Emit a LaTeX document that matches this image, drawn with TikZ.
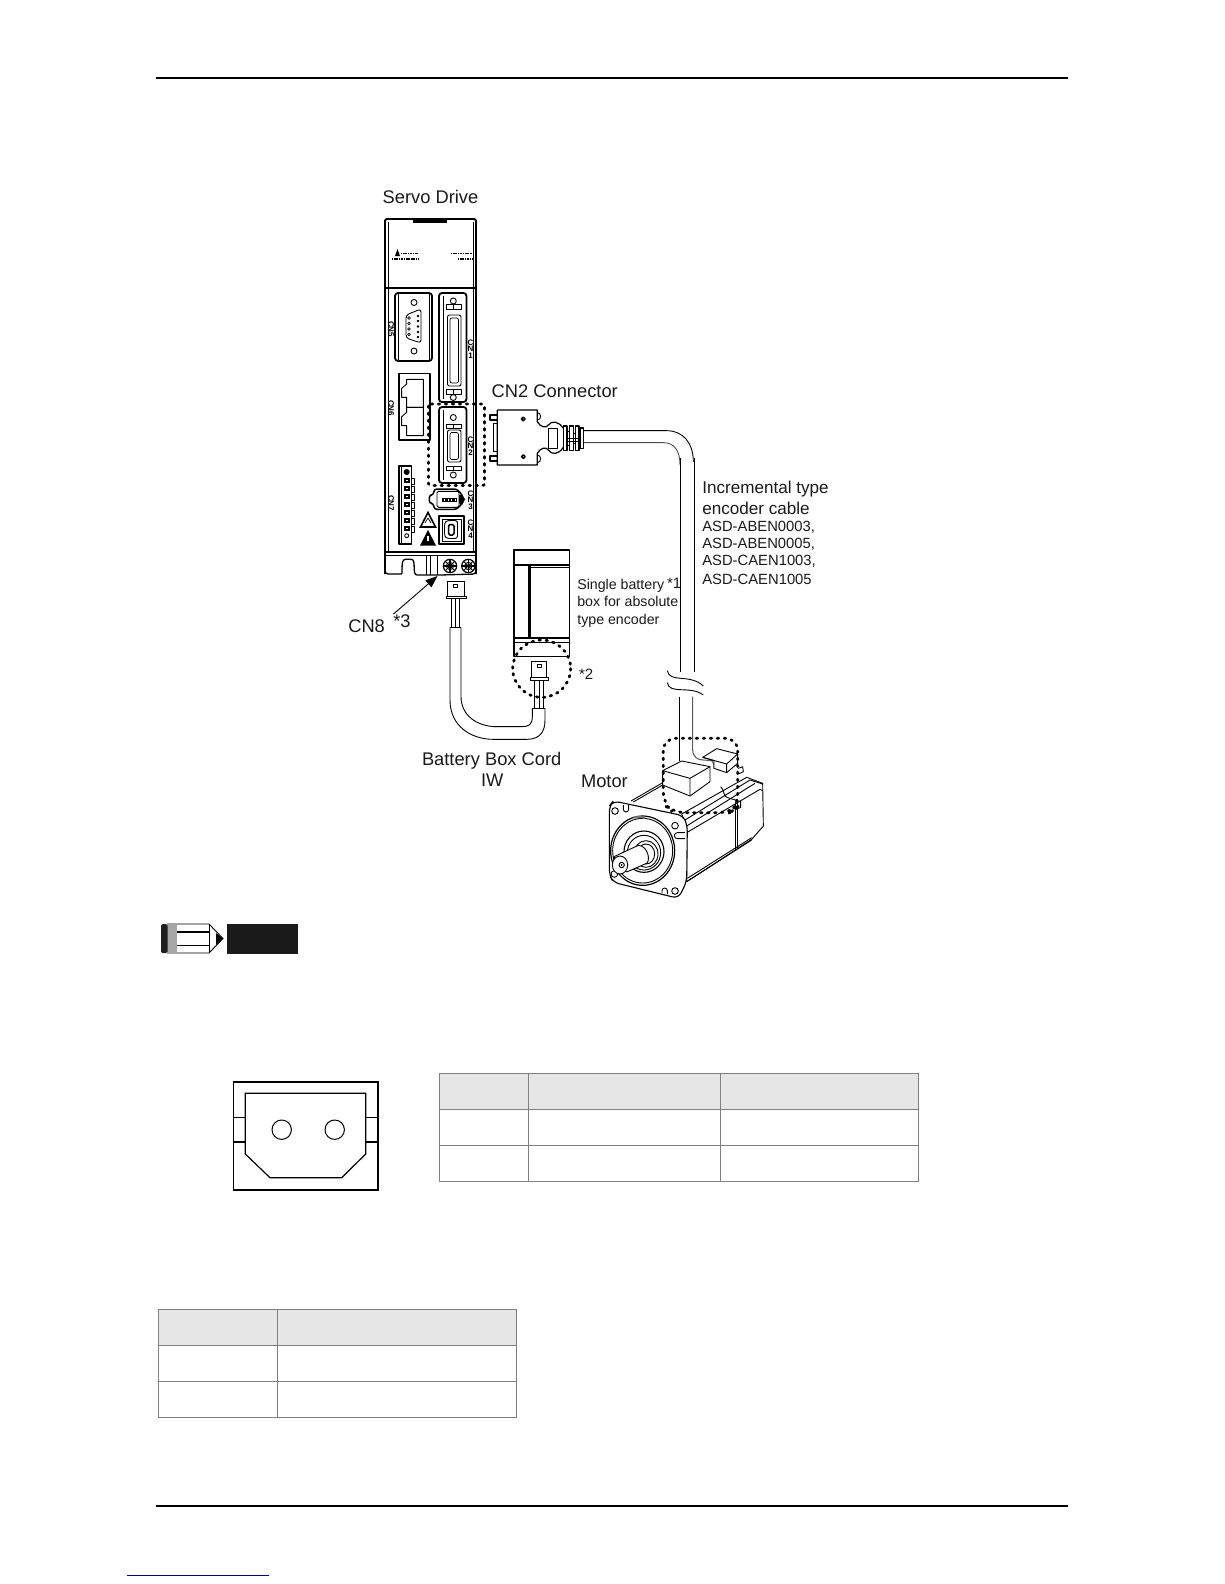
\documentclass[tikz,border=0pt]{standalone}
\usepackage{fontspec}
\setmainfont{Liberation Sans}
\usetikzlibrary{arrows.meta}
\definecolor{ink}{HTML}{1A1A1A}
\definecolor{tbl}{HTML}{808080}
\definecolor{tblfill}{HTML}{E6E6E6}
\tikzset{
  lab/.style={anchor=base west,inner sep=0pt,outer sep=0pt,text=ink,font=\fontsize{18.3}{20}\selectfont},
  widelab/.style={lab,font=\fontsize{17.1}{20}\selectfont},
  midlab/.style={lab,font=\fontsize{14.2}{16}\selectfont},
  smalllab/.style={lab,font=\fontsize{14.8}{16}\selectfont},
  sidelab/.style={inner sep=0pt,outer sep=0pt,text=black,font=\fontsize{8}{8}\selectfont\bfseries,rotate=-90},
  stacklab/.style={inner sep=0pt,outer sep=0pt,text=black,align=center,font=\fontsize{8}{6.6}\selectfont\bfseries},
  ln/.style={draw=black,line width=.9pt,line join=round},
  hv/.style={draw=black,line width=1.5pt,line join=round},
  thn/.style={draw=black,line width=.7pt,line join=round},
  dots/.style={draw=black,line width=2.8pt,line cap=round,dash pattern=on 1.5pt off 5.5pt},
  cell/.style={draw=tbl,line width=1pt},
  zA/.style={shift={(340,180)},x=.33333pt,y=-.33333pt},
  zB/.style={shift={(340,470)},x=.33333pt,y=-.33333pt},
  zC/.style={shift={(570,700)},x=.33333pt,y=-.33333pt},
  zD/.style={shift={(375,420)},x=.33333pt,y=-.33333pt},
  zF/.style={shift={(480,390)},x=.33333pt,y=-.33333pt},
  zG/.style={shift={(570,470)},x=.33333pt,y=-.33333pt},
}
\begin{document}
\begin{tikzpicture}[x=1pt,y=-1pt]
\useasboundingbox (0,0) rectangle (1224,1584);
\fill[white] (0,0) rectangle (1224,1584);

% page rules
\draw[black,line width=1.1pt] (156,78) -- (1068,78);
\draw[black,line width=1.1pt] (156,1506) -- (1068,1506);
\draw[blue!50!black,line width=1pt] (127,1575) -- (269,1575);

% ---------- servo drive ----------
\draw[hv,line width=1.8pt,rounded corners=1.5pt] (385,574) -- (385,219) -- (476,219) -- (476,574);
\draw[ln] (473,222) -- (473,552);
\draw[ln] (388,222) -- (388,552);
\fill[black] (413,219) rectangle (447,223);
\draw[ln,line width=1.1pt] (385,288) -- (476,288);
% logo and rating marks
\fill[black] (395,256) -- (397.5,249) -- (400,256) -- cycle;
\draw[black,line width=1.8pt,dash pattern=on 1.2pt off .5pt] (401,253.5) -- (418,253.5);
\draw[black,line width=1.8pt,dash pattern=on 1.2pt off .5pt] (392,259) -- (418,259);
\draw[black,line width=1.8pt,dash pattern=on 1.2pt off .5pt] (451,253.5) -- (472,253.5);
\draw[black,line width=1.8pt,dash pattern=on 1.2pt off .5pt] (458,259) -- (472,259);

% CN5
\draw[hv,line width=1.8pt,rounded corners=3pt] (395,293) rectangle (432,361);
\draw[thn] (398,293) -- (398,361) (429,293) -- (429,361);
\draw[ln,rounded corners=3pt] (406,315) -- (421,309) -- (421,343) -- (406,338) -- cycle;
\draw[ln] (414,302.5) circle[radius=3];
\draw[ln] (414,351) circle[radius=3];
\foreach \y in {318,323.5,329,334.5} \draw[thn] (409,\y) circle[radius=1.3];
\foreach \y in {316,321,326.5,332,337} \fill[black] (418,\y) circle[radius=1.4];

% CN1
\draw[hv,line width=1.8pt,rounded corners=3pt] (439,293) rectangle (466.5,402);
\draw[ln] (443,296) -- (443,399);
\draw[ln,rounded corners=2pt] (447.5,315) rectangle (461,386);
\draw[thn,rounded corners=2pt] (450,318) rectangle (458.5,383);
\draw[ln] (453.3,301) circle[radius=3];
\draw[ln] (446,304.5) rectangle (461,309);
\draw[ln] (453.3,304.5) -- (453.3,309);
\draw[ln] (446,389.5) rectangle (461,394);
\draw[ln] (453.3,389.5) -- (453.3,394);
\draw[ln] (453.3,397.5) circle[radius=3];

% CN2
\draw[hv,line width=1.8pt,rounded corners=3pt] (439,407) rectangle (466.5,483);
\draw[ln] (443,410) -- (443,480);
\draw[ln,rounded corners=2pt] (447.5,430) rectangle (461,462);
\draw[thn,rounded corners=2pt] (450,432.5) rectangle (458.5,459.5);
\draw[ln] (453.3,417.5) circle[radius=3];
\draw[ln] (446,424) rectangle (461,428);
\draw[ln] (453.3,424) -- (453.3,428);
\draw[ln] (446,466.5) rectangle (461,470.5);
\draw[ln] (453.3,466.5) -- (453.3,470.5);
\draw[ln] (453.3,475) circle[radius=3];

% CN6
\draw[hv] (399,373.5) rectangle (430,440);
\begin{scope}[zA]
  \draw[ln] (250,598) -- (200,598) -- (200,612) -- (185,625) -- (185,652) -- (200,652) -- (200,682) -- (250,682) -- cycle;
  \draw[ln] (250,682) -- (200,682) -- (200,697) -- (185,710) -- (185,737) -- (200,737) -- (200,767) -- (250,767) -- cycle;
\end{scope}

% CN7
\begin{scope}[zD]
  \draw[hv] (72,138) rectangle (110,372);
  \draw[thn] (80,138) -- (80,372);
  \fill[black] (95,156) circle[radius=9];
  \foreach \y in {182,206,230,254,278,302,326} {
    \fill[black] (86,\y-8) rectangle (105,\y+8);
    \fill[white] (94,\y-3) rectangle (100,\y+1);
    \draw[thn] (110,\y-8) -- (118,\y-8) -- (118,\y+10) -- (110,\y+10);
  }
  \draw[ln] (95,347) circle[radius=6];
\end{scope}

% warning triangles
\draw[hv,line width=1.6pt,line join=miter] (420.5,527) -- (428,512.5) -- (435.5,527) -- cycle;
\draw[thn] (425,523) -- (428,518) -- (431,523);
\fill[black] (420,545.5) -- (428,530) -- (436,545.5) -- cycle;
\fill[white] (427.3,536) rectangle (428.7,541);

% CN3
\begin{scope}[zD]
  \draw[hv,rounded corners=2.5pt] (178,207) -- (245,207) -- (262,225) -- (262,250) -- (245,268) -- (178,268) -- (175,250) -- (163,250) -- (163,225) -- (175,225) -- cycle;
  \draw[ln,rounded corners=1.5pt] (186,214) rectangle (252,262);
  \fill[black] (200,234) rectangle (245,246);
  \foreach \x in {207,218,229,239} \fill[white] (\x,237) rectangle (\x+3,243);
  \fill[black] (252,226) -- (262,224) -- (270,238) -- (262,254) -- (252,250) -- cycle;
\end{scope}

% CN4
\draw[ln,line width=1.2pt] (439,516) rectangle (464,544);
\draw[ln] (442,519) rectangle (461,541);
\draw[ln,rounded corners=2.5pt] (444.5,523) -- (447,520.5) -- (457.5,520.5) -- (457.5,538.5) -- (447,538.5) -- (444.5,536) -- cycle;
\draw[hv,rounded corners=1.5pt] (448.5,524.5) rectangle (454,535);

% base of the drive
\draw[hv] (385,552) -- (476,552);
\draw[thn] (385,555) -- (476,555);
\begin{scope}[zB]
  \draw[hv,line width=1.3pt,rounded corners=3pt] (135,250) -- (135,312) -- (175,312) .. controls (190,312) and (180,268) .. (205,268) .. controls (230,268) and (215,315) .. (240,315) -- (300,315) -- (408,312) -- (408,250);
  \draw[ln] (258,255) -- (258,315) (272,255) -- (272,315);
  \draw[hv] (292,255) -- (292,315);
  \foreach \x in {330,385} {
    \draw[hv,line width=1.2pt] (\x,288) circle[radius=20];
    \draw[hv,line width=1.2pt] (\x-20,288) -- (\x+20,288) (\x,268) -- (\x,308);
    \draw[ln] (\x-14,274) -- (\x+14,302) (\x-14,302) -- (\x+14,274);
    \draw[ln] (\x,288) circle[radius=11];
  }
\end{scope}

% rotated panel labels
\node[sidelab] (cnfive) at (391,329) {CN5};
\node[sidelab] (cnsix) at (391,408) {CN6};
\node[sidelab] (cnseven) at (391,503) {CN7};
\node[stacklab] (cnone) at (470.5,349) {C\\N\\1};
\node[stacklab] (cntwo) at (470.5,446) {C\\N\\2};
\node[stacklab] (cnthree) at (470.5,500) {C\\N\\3};
\node[stacklab] (cnfour) at (470.5,529) {C\\N\\4};

% dotted CN2 outline
\draw[dots,rounded corners=2pt] (428.5,404) rectangle (484.5,485.5);

% CN8 arrow
\node[lab] (cneight) at (348.3,632) {CN8};
\node[lab] (starthree) at (393.3,627) {*3};
\coordinate (cneightarrowtail) at (393.5,614);
\coordinate (cneighttip) at (437.5,576);
\draw[black,line width=.9pt,-{Triangle[length=12pt,width=9pt]}] (cneightarrowtail) -- (cneighttip);

% plugs, cord, battery box
\begin{scope}[zB]
  \draw[ln] (322,333) rectangle (372,380);
  \draw[ln] (318,380) rectangle (378,386);
  \draw[ln] (340,343) rectangle (353,351);
  \draw[ln] (335,386) -- (335,470) (346,386) -- (346,470) (358,386) -- (358,470);
  \draw[ln] (330,472) -- (363,472);
  \draw[ln] (330,472) -- (330,690) .. controls (330,770) and (395,808) .. (460,808) -- (560,808) .. controls (600,808) and (615,785) .. (615,750) -- (615,715);
  \draw[ln] (363,472) -- (363,680) .. controls (363,735) and (410,770) .. (470,770) -- (545,770) .. controls (565,770) and (577,765) .. (577,740) -- (577,715);
  \draw[ln] (577,715) -- (615,715);
  \draw[ln] (574,575) rectangle (620,623);
  \draw[ln] (570,623) rectangle (624,630);
  \draw[ln] (592,583) rectangle (604,592);
  \draw[ln] (583,630) -- (583,715) (597,630) -- (597,715) (610,630) -- (610,715);
  \draw[hv,line width=1.6pt] (522,240) rectangle (688,560);
  \draw[hv,line width=2.6pt] (522,240) -- (522,505);
  \draw[hv,line width=2pt] (522,240) -- (688,240);
  \draw[hv,line width=2pt] (522,285) -- (688,285);
  \draw[thn] (567,293) -- (688,293);
  \draw[hv,line width=3pt] (567,285) -- (567,505);
  \draw[hv,line width=2pt] (522,505) -- (688,505);
  \draw[ln] (522,517) -- (688,517);
  \draw[dots] (605,596) ellipse[x radius=87,y radius=86];
\end{scope}
\node[lab,font=\fontsize{15}{16}\selectfont] (startwo) at (579,679) {*2};

% ---------- CN2 plug and encoder cable ----------
\begin{scope}[zF]
  \draw[hv,line width=1.2pt] (52,60) -- (172,60) -- (172,95) .. controls (180,112) and (200,115) .. (205,105) .. controls (215,92) and (235,92) .. (250,115);
  \draw[hv,line width=1.2pt] (52,60) -- (52,225) -- (172,225) -- (172,190) .. controls (180,173) and (200,170) .. (205,180) .. controls (215,195) and (235,195) .. (250,172);
  \draw[ln] (40,100) rectangle (52,185);
  \draw[hv] (30,75) rectangle (52,90);
  \draw[hv] (30,198) rectangle (52,213);
  \draw[ln] (172,68) .. controls (185,68) and (185,90) .. (172,90);
  \draw[ln] (172,195) .. controls (185,195) and (185,218) .. (172,218);
  \draw[hv] (130,87) circle[radius=5.5];
  \draw[hv] (130,200) circle[radius=5.5];
  \draw[ln] (205,115) rectangle (232,175);
  \foreach \x in {250,269,286} \draw[ln,line width=1.1pt] (\x,108) rectangle (\x+11,182);
  \draw[ln,line width=1.1pt] (300,114) rectangle (311,176);
  \draw[ln] (261,125) -- (269,125) (261,165) -- (269,165) (280,130) -- (286,130) (280,160) -- (286,160);
  \draw[ln] (261,146) -- (300,146) (261,154) -- (300,154);
  \draw[ln] (312,122) -- (560,122) .. controls (610,122) and (640,160) .. (640,215);
  \draw[draw=black!70,line width=.9pt] (312,158) -- (550,158) .. controls (585,158) and (600,185) .. (600,225);
\end{scope}
\begin{scope}[zG]
  \draw[ln] (330,-35) -- (330,605);
  \draw[ln] (372,-35) -- (372,605);
  \draw[ln] (292,602) .. controls (298,640) and (360,610) .. (400,648);
  \draw[ln] (292,638) .. controls (298,675) and (360,645) .. (400,675);
\end{scope}

% ---------- motor ----------
\begin{scope}[zC]
  \draw[ln] (328,-10) -- (328,183);
  \draw[draw=black!65,line width=1pt] (368,-10) -- (368,150) .. controls (368,172) and (385,180) .. (400,180) -- (425,182) .. controls (432,185) and (432,195) .. (432,205);
  % body
  \draw[ln,fill=white] (335,342) -- (530,232) -- (578,250) -- (580,378) -- (545,418) -- (350,545) -- (350,378) -- cycle;
  \draw[ln] (345,360) -- (540,240) -- (578,252);
  \draw[ln] (350,378) -- (555,250);
  \draw[ln] (350,398) -- (570,268) -- (578,272);
  \draw[ln] (183,303) -- (278,248);
  \draw[ln] (190,306) -- (278,255);
  \draw[ln] (495,305) -- (495,450) (503,300) -- (503,445);
  \draw[ln] (452,260) .. controls (465,270) and (455,290) .. (480,295) -- (512,305) -- (512,322) -- (495,330);
  \draw[ln] (505,205) -- (518,200) -- (520,215) -- (505,222);
  \draw[ln] (350,545) -- (545,420);
  \draw[ln] (352,535) -- (545,413);
  % small connector
  \draw[ln,fill=white] (398,172) -- (440,146) -- (503,162) -- (503,190) -- (470,218) -- (432,205) -- (432,182) -- cycle;
  \draw[ln] (398,172) -- (470,192) -- (503,162) (470,192) -- (470,218);
  % big connector
  \draw[ln,fill=white] (278,212) -- (335,183) -- (420,200) -- (420,245) -- (360,288) -- (278,255) -- cycle;
  \draw[ln] (278,212) -- (360,235) -- (420,200) (360,235) -- (360,288);
  % flange
  \draw[ln,line width=1.1pt,fill=white,rounded corners=6pt] (130,303) -- (340,347) -- (352,378) -- (350,545) -- (325,595) -- (130,547) -- (118,525) -- (118,318) -- cycle;
  \foreach \a/\b in {135/333,315/377,133/522,315/573} \draw[ln] (\a,\b) circle[radius=10];
  \draw[ln] (160,315) -- (160,328) arc[start angle=180,end angle=0,radius=8] -- (176,315);
  \draw[ln] (345,398) -- (322,398) arc[start angle=270,end angle=90,radius=9] -- (345,416);
  \draw[ln] (276,580) -- (276,572) arc[start angle=180,end angle=360,radius=8] -- (292,582);
  % pilot and rings
  \draw[ln,line width=1.2pt] (218,452) ellipse[x radius=96,y radius=104];
  \draw[ln] (218,452) ellipse[x radius=90,y radius=97];
  \draw[draw=black!55,line width=2pt] (190,353) .. controls (200,350) and (215,350) .. (225,354);
  \draw[ln,line width=1.1pt] (222,455) ellipse[x radius=60,y radius=62];
  \draw[ln] (222,458) ellipse[x radius=50,y radius=52];
  \draw[ln] (228,462) ellipse[x radius=36,y radius=40];
  \draw[ln] (228,462) ellipse[x radius=26,y radius=30];
  % shaft
  \draw[ln,fill=white] (132,470) -- (205,436) .. controls (235,436) and (245,490) .. (225,492) -- (170,516) -- cycle;
  \draw[ln,fill=white] (150,495) ellipse[x radius=23,y radius=27];
  \draw[ln] (155,495) circle[radius=8];
  \fill[black] (155,495) circle[radius=3];
  % dotted outline
  \draw[dots,rounded corners=12pt] (503,320) -- (503,115) -- (280,115) -- (280,312) -- (310,338) -- (480,338) -- cycle;
\end{scope}

% ---------- labels ----------
\node[lab] (servo) at (382.7,203) {Servo Drive};
\node[lab] (cntwoconn) at (491.7,397) {CN2 Connector};
\node[widelab] (inc) at (702.3,493) {Incremental type};
\node[widelab] (enc) at (702.3,514) {encoder cable};
\node[smalllab] (absa) at (702.3,531) {ASD-ABEN0003,};
\node[smalllab] (absb) at (702.3,548.3) {ASD-ABEN0005,};
\node[smalllab] (absc) at (702.3,565.8) {ASD-CAEN1003,};
\node[smalllab] (absd) at (702.3,584) {ASD-CAEN1005};
\node[midlab] (single) at (577.3,589) {Single battery};
\node[lab,font=\fontsize{15}{16}\selectfont] (starone) at (667,588) {*1};
\node[midlab] (boxfor) at (577.3,606.7) {box for absolute};
\node[midlab] (typeenc) at (577.3,624) {type encoder};
\node[lab] (cord) at (422,765) {Battery Box Cord};
\node[lab] (iw) at (481,786.7) {IW};
\node[lab] (motor) at (581,787) {Motor};

% ---------- note icon ----------
\draw[black,line width=.9pt] (167,924) -- (209,924) -- (223,938.5) -- (209,953) -- (167,953);
\draw[black,line width=.9pt] (209,924) -- (209,953);
\draw[black,line width=1.2pt] (177,932) -- (209,932);
\draw[black,line width=.7pt] (177,945) -- (209,945);
\fill[black!35] (167,924) rectangle (177,953);
\fill[black!88,rounded corners=1.5pt] (161,924) rectangle (167.5,953);
\fill[black] (216,933) -- (223,938.5) -- (216,945) -- cycle;
\fill[ink] (227,924) rectangle (298,954);

% ---------- connector face ----------
\draw[black,line width=1.3pt] (233.3,1082) rectangle (378,1190);
\draw[black,line width=1.2pt] (245.3,1154) -- (245.3,1093.3) -- (365.7,1093.3) -- (365.7,1154) -- (341.7,1177.7) -- (270,1177.7) -- cycle;
\draw[black,line width=1pt] (281.7,1129.7) circle[radius=9.7];
\draw[black,line width=1pt] (334.7,1129.7) circle[radius=9.7];
\draw[black,line width=.8pt] (233.3,1117.3) -- (245.3,1117.3) (365.7,1117.3) -- (378,1117.3);
\draw[black,line width=1.6pt] (233.3,1141.7) -- (245.3,1141.7) (365.7,1141.7) -- (378,1141.7);

% ---------- tables ----------
\fill[tblfill] (439.3,1073.3) rectangle (918.3,1109.3);
\draw[cell] (439.3,1073.3) rectangle (918.3,1181.3);
\draw[cell] (439.3,1109.3) -- (918.3,1109.3) (439.3,1145.3) -- (918.3,1145.3);
\draw[cell] (528.3,1073.3) -- (528.3,1181.3) (720.3,1073.3) -- (720.3,1181.3);

\fill[tblfill] (158.3,1309.3) rectangle (516.3,1345.3);
\draw[cell] (158.3,1309.3) rectangle (516.3,1417.3);
\draw[cell] (158.3,1345.3) -- (516.3,1345.3) (158.3,1381.3) -- (516.3,1381.3);
\draw[cell] (277.3,1309.3) -- (277.3,1417.3);
\end{tikzpicture}
\end{document}
